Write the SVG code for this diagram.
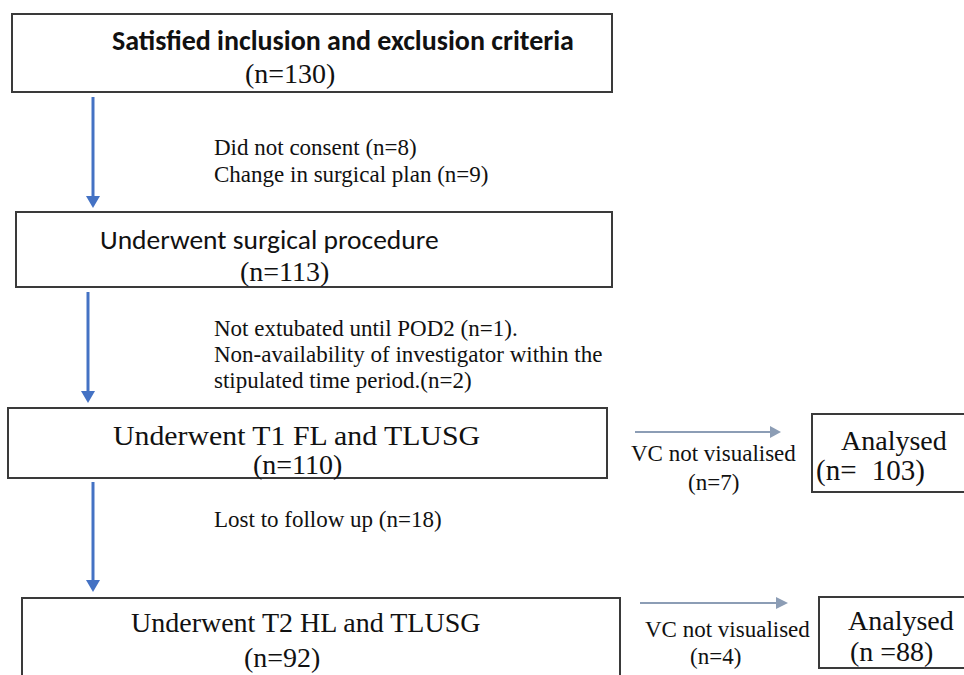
<svg xmlns="http://www.w3.org/2000/svg" width="964" height="675" viewBox="0 0 964 675">
<style>
.box{fill:#fff;stroke:#3a3a3a;stroke-width:2}
.serif{font-family:"Liberation Serif","Times New Roman",serif;fill:#111}
.sans{font-family:"Carlito","Liberation Sans",Arial,sans-serif;fill:#111}
.small{font-size:23px}
.big{font-size:28px}
.blue{stroke:#4472C4;stroke-width:3;fill:none}
.grey{stroke:#8C9DB5;stroke-width:2;fill:none}
</style>
<rect width="964" height="675" fill="#fff"/>
<g id="connectors">
<line class="blue" x1="93" y1="97" x2="93" y2="200"/>
<path d="M86,196 L100,196 L93,208 z" fill="#4472C4"/>
<line class="blue" x1="88" y1="292" x2="88" y2="395"/>
<path d="M81,391 L95,391 L88,403 z" fill="#4472C4"/>
<line class="blue" x1="93" y1="482" x2="93" y2="584"/>
<path d="M86,580 L100,580 L93,592 z" fill="#4472C4"/>
<line class="grey" x1="635" y1="432" x2="770" y2="432"/>
<path d="M770,426 L781,432 L770,438 z" fill="#8C9DB5"/>
<line class="grey" x1="640" y1="603" x2="777" y2="603"/>
<path d="M776,597 L788,603 L776,609 z" fill="#8C9DB5"/>
<text class="serif small"><tspan x="214" y="155">Did not consent (n=8)</tspan><tspan x="214" y="182">Change in surgical plan (n=9)</tspan></text>
<text class="serif small"><tspan x="214" y="336">Not extubated until POD2 (n=1).</tspan><tspan x="214" y="362">Non-availability of investigator within the</tspan><tspan x="214" y="388">stipulated time period.(n=2)</tspan></text>
<text class="serif small" x="214" y="527">Lost to follow up (n=18)</text>
<text class="serif small" x="631" y="461">VC not visualised</text>
<text class="serif small" x="688" y="490">(n=7)</text>
<text class="serif small" x="645" y="637">VC not visualised</text>
<text class="serif small" x="690" y="664">(n=4)</text>
</g>
<g id="n1">
<rect class="box" x="12" y="14" width="600" height="78"/>
<text class="sans" font-size="28" font-weight="bold" x="112" y="50">Satisfied inclusion and exclusion criteria</text>
<text class="serif big" x="245" y="83">(n=130)</text>
</g>
<g id="n2">
<rect class="box" x="16" y="212" width="596" height="75"/>
<text class="sans" font-size="27.5" x="100" y="249">Underwent surgical procedure</text>
<text class="serif big" x="240" y="281">(n=113)</text>
</g>
<g id="n3">
<rect class="box" x="8" y="408" width="599" height="70"/>
<text class="serif big" x="113" y="445" textLength="367" lengthAdjust="spacingAndGlyphs">Underwent T1 FL and TLUSG</text>
<text class="serif big" x="253" y="474">(n=110)</text>
</g>
<g id="n4">
<rect class="box" x="22" y="598" width="598" height="90"/>
<text class="serif big" x="131" y="632">Underwent T2 HL and TLUSG</text>
<text class="serif big" x="244" y="667">(n=92)</text>
</g>
<g id="n5">
<rect class="box" x="812" y="414" width="160" height="78"/>
<text class="serif big" x="841" y="450">Analysed</text>
<text class="serif" font-size="29" x="816" y="480">(n= <tspan dx="8">103)</tspan></text>
</g>
<g id="n6">
<rect class="box" x="819" y="597" width="160" height="71"/>
<text class="serif big" x="848" y="630">Analysed</text>
<text class="serif big" x="850" y="661">(n =88)</text>
</g>
</svg>
